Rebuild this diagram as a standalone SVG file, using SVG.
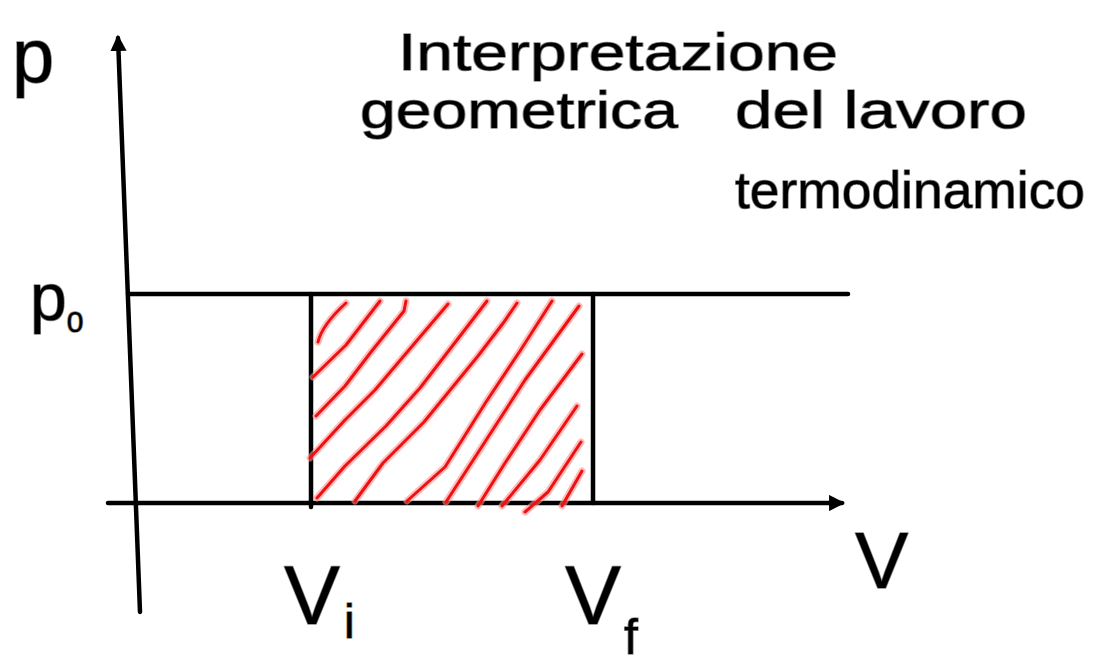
<svg xmlns="http://www.w3.org/2000/svg" width="1102" height="666" viewBox="0 0 1102 666">
<style>
.ax{stroke:#000;stroke-width:4.5;fill:none;stroke-linecap:round}
.hw{font-family:"Liberation Sans","DejaVu Sans",sans-serif;fill:#000;stroke:#8a8a8a;stroke-width:1.5;paint-order:stroke;stroke-linejoin:round}
.hh{stroke:#ff9090;stroke-width:7;fill:none;stroke-linecap:round;stroke-linejoin:round;opacity:.6}
.hr{stroke:#f01010;stroke-width:3;fill:none;stroke-linecap:round;stroke-linejoin:round}
</style>
<defs>
<marker id="arr" viewBox="0 0 10 10" refX="8" refY="5" markerWidth="3.6" markerHeight="3.6" markerUnits="strokeWidth" orient="auto">
<path d="M0,0 L10,5 L0,10 z" fill="#000"/>
</marker>
</defs>
<rect width="1102" height="666" fill="#fff"/>
<g id="title">
<text class="hw" x="398" y="70" font-size="52" textLength="440" lengthAdjust="spacingAndGlyphs">Interpretazione</text>
<text class="hw" x="360" y="128" font-size="52" textLength="318" lengthAdjust="spacingAndGlyphs">geometrica</text>
<text class="hw" x="735" y="128" font-size="52" textLength="292" lengthAdjust="spacingAndGlyphs">del lavoro</text>
<text class="hw" x="735" y="208" font-size="52" textLength="350" lengthAdjust="spacingAndGlyphs">termodinamico</text>
</g>
<g id="connectors">
<line id="p-axis" class="ax" x1="140" y1="612" x2="118" y2="38" marker-end="url(#arr)"/>
<line id="v-axis" class="ax" x1="108" y1="503" x2="842" y2="503" marker-end="url(#arr)"/>
<line id="p0-line" class="ax" x1="128" y1="294" x2="848" y2="294"/>
<line id="vi-line" class="ax" x1="311" y1="294" x2="311" y2="507"/>
<line id="vf-line" class="ax" x1="593" y1="294" x2="593" y2="503"/>
</g>
<g id="hatching">
<g class="hh">
<path d="M318,342 Q322,325 346,303"/>
<path d="M313,377 L346,345 L380,301"/>
<path d="M316,416 L345,386 L371,352 L404,311 L406,301"/>
<path d="M310,458 L345,420 L375,390 L414,344 L448,304"/>
<path d="M317,498 L345,466 L386,426 L420,388 L487,301"/>
<path d="M355,501 L383,463 L424,422 L478,356 L504,322 L517,303"/>
<path d="M407,501 L445,467 L486,402 L520,351 L552,301"/>
<path d="M446,502 L481,448 L525,380 L579,306"/>
<path d="M478,506 L505,463 L540,410 L582,354"/>
<path d="M502,506 L540,460 L577,406"/>
<path d="M525,512 L548,492 L581,442"/>
<path d="M562,506 L570,492 L582,471"/>
</g>
<g class="hr">
<path d="M318,342 Q322,325 346,303"/>
<path d="M313,377 L346,345 L380,301"/>
<path d="M316,416 L345,386 L371,352 L404,311 L406,301"/>
<path d="M310,458 L345,420 L375,390 L414,344 L448,304"/>
<path d="M317,498 L345,466 L386,426 L420,388 L487,301"/>
<path d="M355,501 L383,463 L424,422 L478,356 L504,322 L517,303"/>
<path d="M407,501 L445,467 L486,402 L520,351 L552,301"/>
<path d="M446,502 L481,448 L525,380 L579,306"/>
<path d="M478,506 L505,463 L540,410 L582,354"/>
<path d="M502,506 L540,460 L577,406"/>
<path d="M525,512 L548,492 L581,442"/>
<path d="M562,506 L570,492 L582,471"/>
</g>
</g>
<g id="label-p"><text class="hw" x="12" y="82" font-size="76">p</text></g>
<g id="label-p0"><text class="hw" x="30" y="320" font-size="66">p<tspan font-size="30" dy="12">0</tspan></text></g>
<g id="label-V"><text class="hw" x="855" y="588" font-size="80">V</text></g>
<g id="label-Vi"><text class="hw" x="284" y="624" font-size="84">V<tspan font-size="48" dx="4" dy="14">i</tspan></text></g>
<g id="label-Vf"><text class="hw" x="565" y="624" font-size="84">V<tspan font-size="50" dx="3" dy="30">f</tspan></text></g>
</svg>
